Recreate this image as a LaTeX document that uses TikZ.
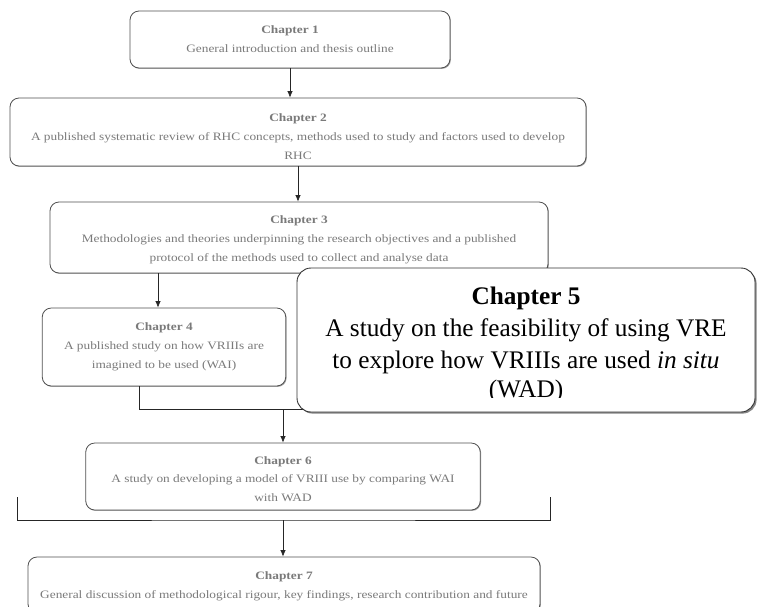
\documentclass[tikz,border=0pt]{standalone}
\usepackage{fontspec}
\setmainfont{Liberation Serif}
\newfontfamily\boxfont[FakeStretch=1.18]{Liberation Serif}
\usetikzlibrary{shadows,arrows.meta}
\definecolor{boxtext}{HTML}{7A7A7A}
\definecolor{boxline}{HTML}{505050}
% invisible strut that pushes a box's text block downwards
\newcommand{\pushdown}[1]{\rule{0pt}{#1}}
\tikzset{
  chapbox/.style={draw=boxline, line width=0.8pt, rounded corners=9pt, fill=white,
    align=center, text=boxtext, inner sep=0pt,
    font=\boxfont\fontsize{11.3}{18.8}\selectfont,
    drop shadow={shadow xshift=0.9pt, shadow yshift=-0.9pt, fill=black!45, opacity=0.8}},
  bigbox/.style={draw=black!80, line width=0.9pt, rounded corners=14pt, fill=white,
    inner sep=0pt,
    drop shadow={shadow xshift=1.6pt, shadow yshift=-1.6pt, fill=black!60, opacity=0.8}},
  bigtext/.style={align=center, text=black, inner sep=0pt,
    font=\fontsize{25.3}{32}\selectfont},
  flow/.style={draw=black!85, line width=0.7pt},
  arr/.style={flow, -{Latex[length=6.5pt,width=5.5pt]}},
}
\begin{document}
\begin{tikzpicture}[x=1pt,y=-1pt]
\useasboundingbox (0,0) rectangle (758,606);
\clip (0,0) rectangle (758,606);

% chapter boxes
\node[chapbox, minimum width=320pt, minimum height=57pt] (ch1) at (290,39.5)
  {\textbf{Chapter 1}\\General introduction and thesis outline};
\node[chapbox, minimum width=576pt, minimum height=68pt] (ch2) at (298,132)
  {\pushdown{17pt}\textbf{Chapter 2}\\A published systematic review of RHC concepts, methods used to study and factors used to develop\\RHC};
\node[chapbox, minimum width=498pt, minimum height=71pt] (ch3) at (299,237.5)
  {\pushdown{13pt}\textbf{Chapter 3}\\Methodologies and theories underpinning the research objectives and a published\\protocol of the methods used to collect and analyse data};
\node[chapbox, minimum width=243.5pt, minimum height=78pt] (ch4) at (164,347)
  {\textbf{Chapter 4}\\A published study on how VRIIIs are\\imagined to be used (WAI)};
\node[chapbox, minimum width=394.5pt, minimum height=67pt] (ch6) at (283,476.5)
  {\pushdown{13pt}\textbf{Chapter 6}\\A study on developing a model of VRIII use by comparing WAI\\with WAD};
\node[chapbox, minimum width=512pt, minimum height=56pt] (ch7) at (284,585)
  {\pushdown{10pt}\textbf{Chapter 7}\\General discussion of methodological rigour, key findings, research contribution and future};

% connectors
\draw[arr] (ch1.south) -- (ch1.south |- ch2.north);
\draw[arr] (ch2.south) -- (ch2.south |- ch3.north);
\draw[arr] ([xshift=-6pt]ch4.north |- ch3.south) -- ([xshift=-6pt]ch4.north);

\coordinate (join) at (283,409);
\draw[flow] ([xshift=-25pt]ch4.south) |- ([xshift=40pt]join -| 297,0);
\draw[arr] (join) -- (ch6.north);

\coordinate (bl) at (17,497);
\coordinate (br) at (550,497);
\coordinate (join2) at (283,520);
\draw[flow] (bl) |- (join2) -| (br);
\draw[arr] (join2) -- (join2 |- ch7.north);

% chapter 5 sits on top of the others
\node[bigbox, minimum width=458pt, minimum height=144pt] (ch5) at (526,340) {};
\begin{scope}
  \clip (297,268) rectangle (755,397);
  \node[bigtext] (ch5text) at (526,344.5)
    {\textbf{Chapter 5}\\A study on the feasibility of using VRE\\to explore how VRIIIs are used \textit{in situ}\\[-3pt](WAD)};
\end{scope}
\end{tikzpicture}
\end{document}
